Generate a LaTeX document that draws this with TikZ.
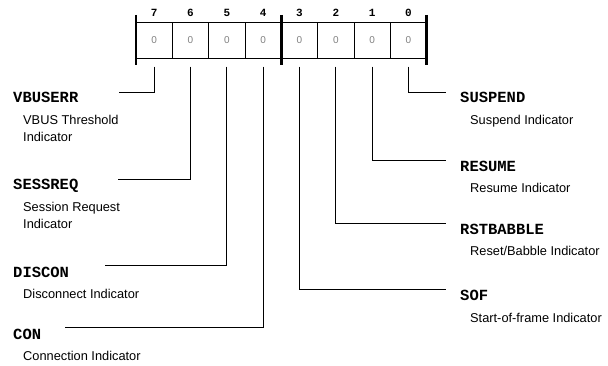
\documentclass[tikz,border=0pt]{standalone}
\usepackage{fontspec}
\setmainfont{Liberation Sans}
\newfontfamily\regmono{Liberation Mono}
\begin{document}
\begin{tikzpicture}[x=1pt,y=-1pt,
  cell/.style={draw, line width=0.9pt, minimum width=36.33pt, minimum height=35.6pt, inner sep=0pt, outer sep=0pt,
    text=black!50, font=\fontsize{10}{12}\selectfont},
  bitnum/.style={anchor=base, inner sep=0pt, font=\regmono\bfseries\fontsize{11}{13}\selectfont},
  thickbar/.style={line width=2.8pt},
  conn/.style={line width=0.9pt},
  lbl/.style={anchor=base west, inner sep=0pt, font=\regmono\bfseries\fontsize{15.5}{18}\selectfont},
  desc/.style={anchor=base west, inner sep=0pt, font=\fontsize{12.8}{15}\selectfont}
]
\useasboundingbox (0,0) rectangle (608,366);
% register cells
\foreach \i/\x in {7/154.17,6/190.5,5/226.83,4/263.17,3/299.5,2/335.83,1/372.17,0/408.5}{
  \node[cell] (b\i) at (\x,40.5) {0};
  \node[bitnum] (n\i) at ([yshift=6pt]b\i.north) {\i};
}
% thick separators
\draw[thickbar] ([yshift=7.7pt]b7.north west) -- ([yshift=-6.7pt]b7.south west);
\draw[thickbar] ([yshift=7.7pt]b3.north west) -- ([yshift=-6.7pt]b3.south west);
\draw[thickbar] ([yshift=7.7pt]b0.north east) -- ([yshift=-6.7pt]b0.south east);
% connector end points
\coordinate (e7) at (119,92.7);
\coordinate (e6) at (118,179);
\coordinate (e5) at (105,265.7);
\coordinate (e4) at (65,327.7);
\coordinate (e0) at (446,92.3);
\coordinate (e1) at (446,160);
\coordinate (e2) at (446,223.3);
\coordinate (e3) at (446,289);
\foreach \i in {7,6,5,4,3,2,1,0}{
  \draw[conn] ([yshift=-8.4pt]b\i.south) |- (e\i);
}
% left labels
\node[lbl] (vbuserr) at (13,103) {VBUSERR};
\node[desc] (vbuserra) at (23,125) {VBUS Threshold};
\node[desc] (vbuserrb) at (23,141.5) {Indicator};
\node[lbl] (sessreq) at (13,190) {SESSREQ};
\node[desc] (sessreqa) at (23,211.7) {Session Request};
\node[desc] (sessreqb) at (23,228.2) {Indicator};
\node[lbl] (discon) at (13,277.3) {DISCON};
\node[desc] (discona) at (23,298.3) {Disconnect Indicator};
\node[lbl] (con) at (13,339.5) {CON};
\node[desc] (cona) at (23,360.5) {Connection Indicator};
% right labels
\node[lbl] (suspend) at (460,103) {SUSPEND};
\node[desc] (suspenda) at (470,125) {Suspend Indicator};
\node[lbl] (resume) at (460,171.3) {RESUME};
\node[desc] (resumea) at (470,192.5) {Resume Indicator};
\node[lbl] (rstbabble) at (460,234.3) {RSTBABBLE};
\node[desc] (rstbabblea) at (470,255.7) {Reset/Babble Indicator};
\node[lbl] (sof) at (460,300.5) {SOF};
\node[desc] (sofa) at (470,322) {Start-of-frame Indicator};
\end{tikzpicture}
\end{document}
